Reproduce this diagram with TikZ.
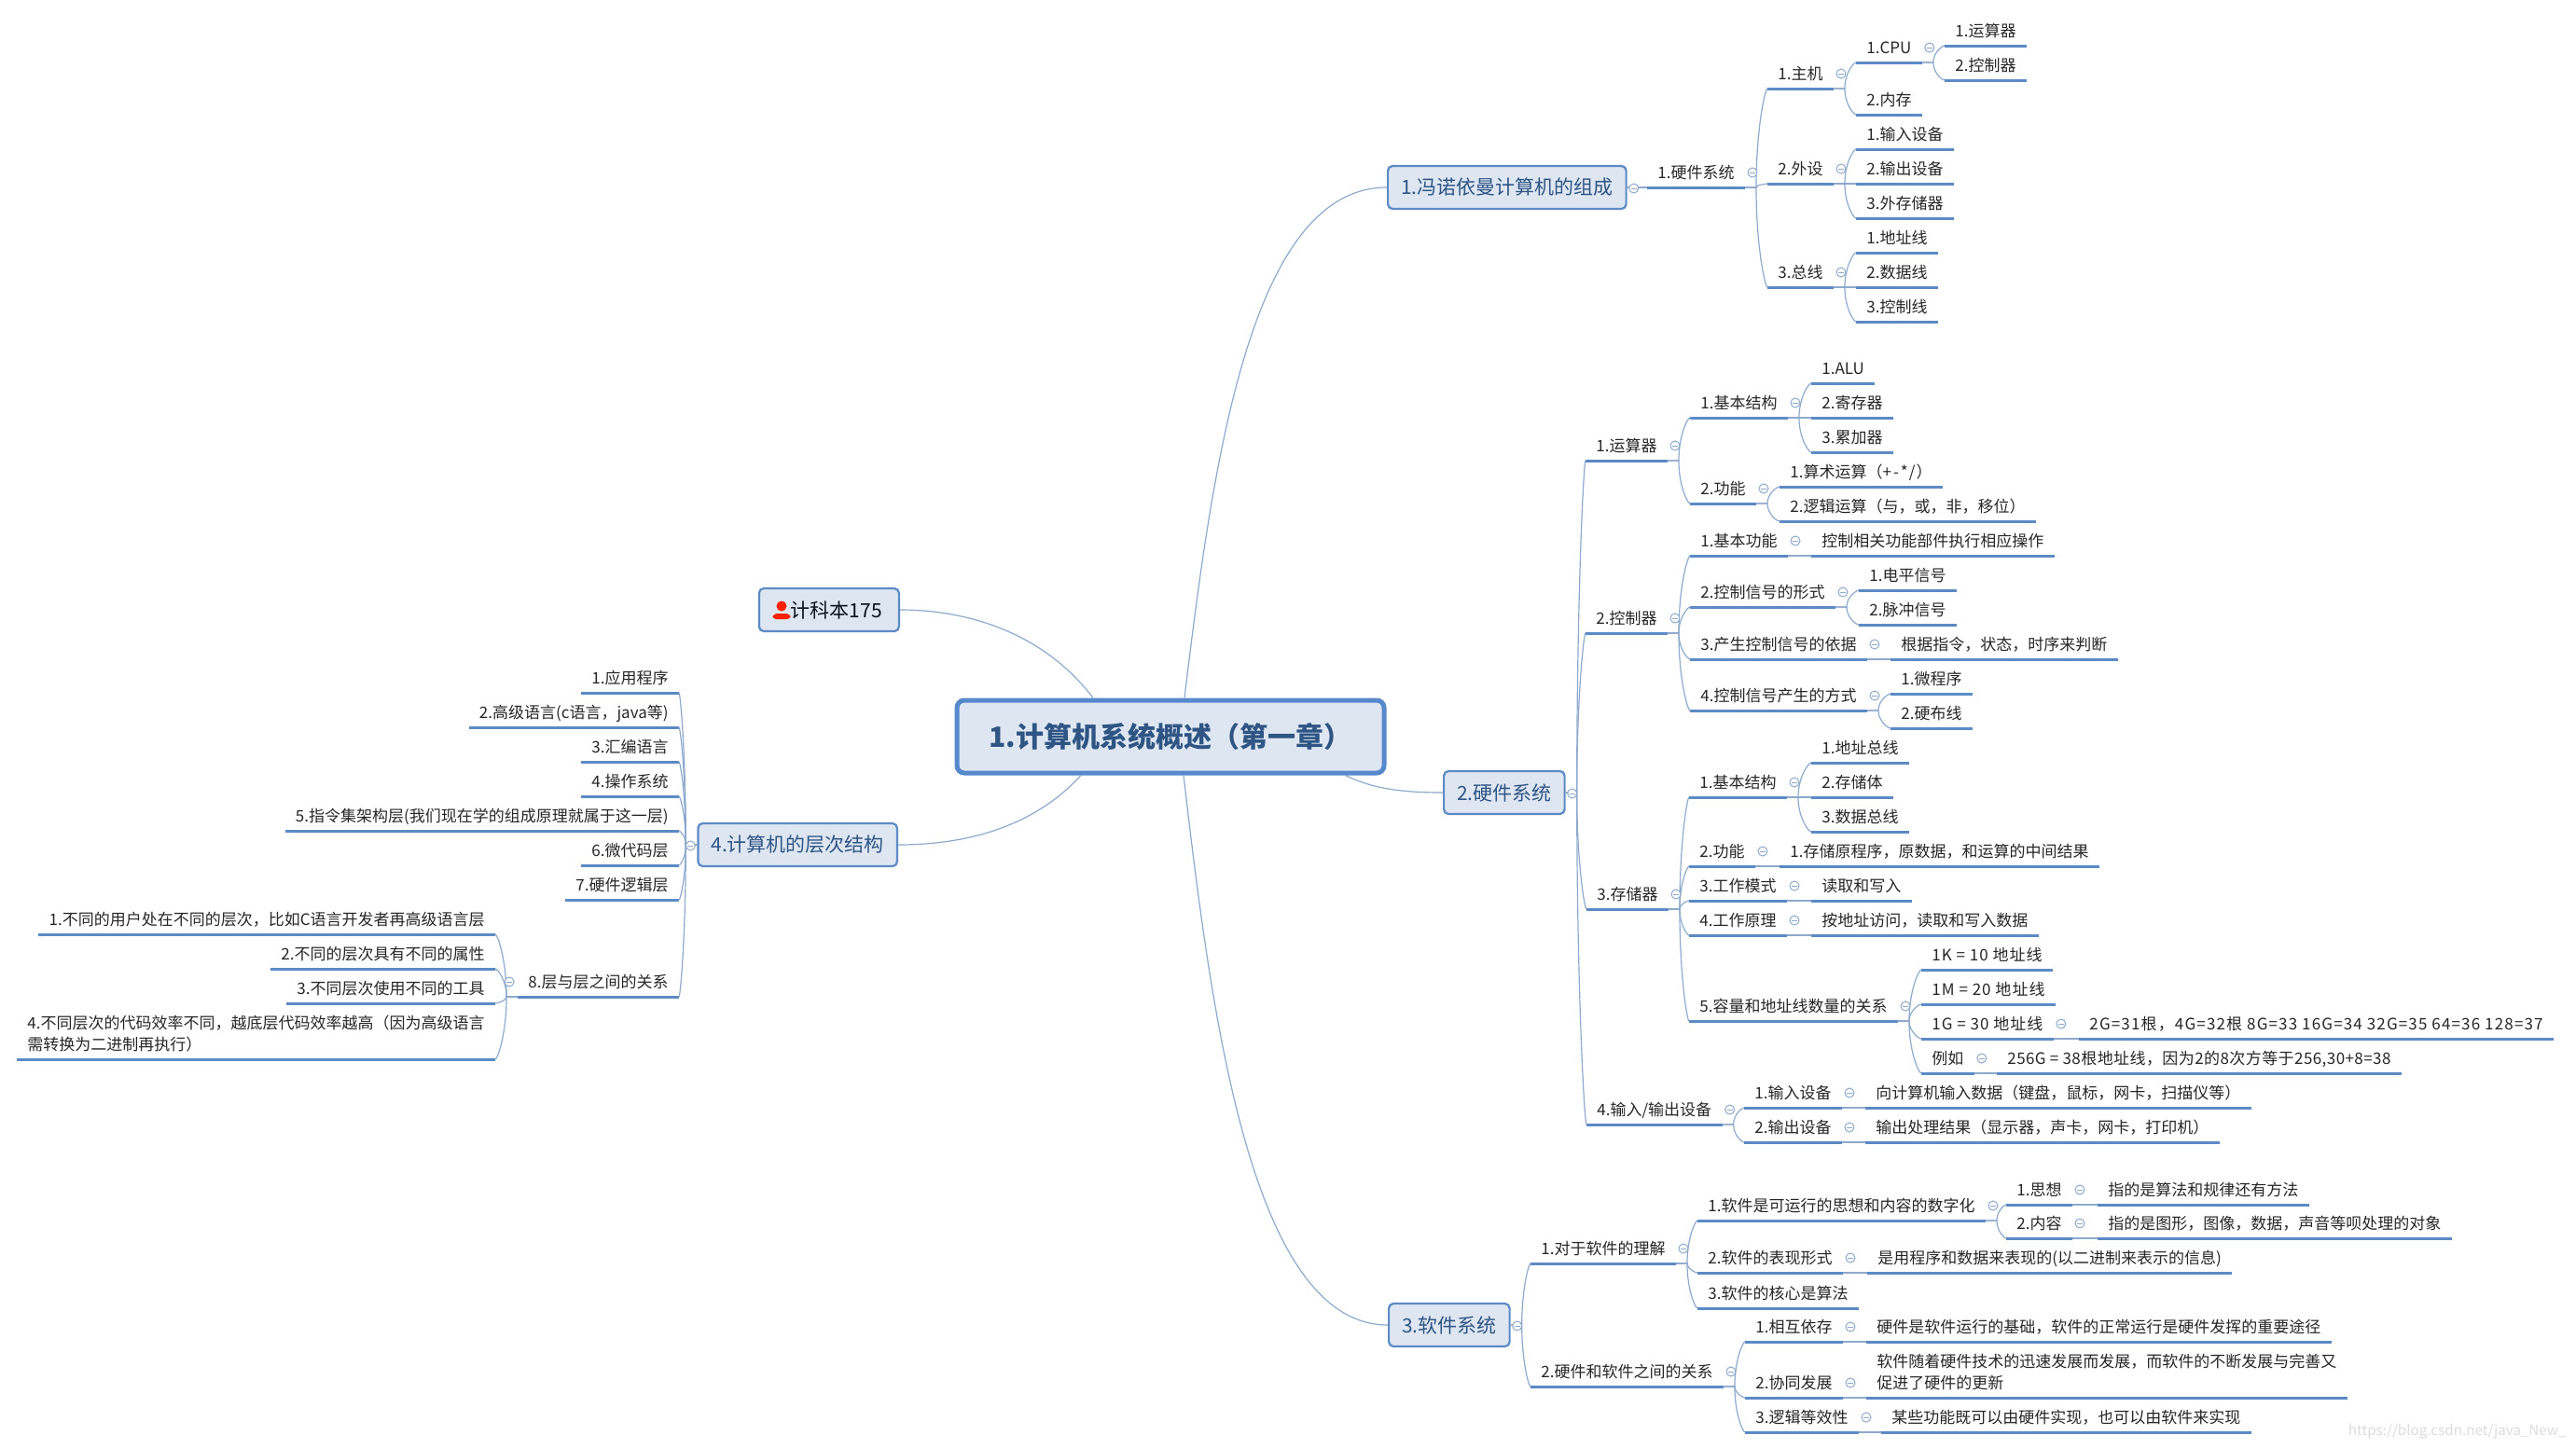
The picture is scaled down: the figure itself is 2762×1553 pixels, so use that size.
\documentclass[tikz,border=0pt]{standalone}
\usepackage{fontspec}
\setmainfont{Noto Sans CJK SC}
\usetikzlibrary{calc}
\definecolor{topicblue}{HTML}{5B8AC5}
\definecolor{linkblue}{HTML}{8DA9CB}
\definecolor{boxfill}{HTML}{DDE6F1}
\definecolor{boxtext}{HTML}{2F5585}
\definecolor{rootblue}{HTML}{5689CC}
\tikzset{
  leaf/.style = {anchor=south west, inner xsep=5.5pt, inner ysep=3pt, text depth=1.8pt, align=left, text=black!85,
    font=\fontsize{8.5pt}{11.5pt}\selectfont,
    append after command={(\tikzlastnode.south west) edge[topicline] (\tikzlastnode.south east)}},
  lleaf/.style = {leaf, anchor=south east},
  wideleaf/.style = {leaf, font=\fontsize{8.5pt}{11.5pt}\selectfont\addfontfeature{LetterSpace=#1}},
  topicline/.style = {draw=topicblue, line width=1.5pt},
  topicbox/.style = {rectangle, draw=topicblue, line width=1.1pt, rounded corners=2.5pt, fill=boxfill, text=boxtext,
    minimum height=23pt, inner xsep=7pt, font=\fontsize{10.5pt}{12pt}\selectfont},
  rootbox/.style = {topicbox, draw=rootblue, line width=2.5pt, rounded corners=4pt, minimum width=229pt, minimum height=39pt,
    font=\fontsize{15pt}{16pt}\selectfont\bfseries},
  link/.style = {draw=linkblue, line width=0.6pt},
  rlink/.style = {link, to path={-- ++(12,0) coordinate (stem)
    .. controls ($(stem)!0.6!(stem |- \tikztotarget)$) and ($(stem |- \tikztotarget)!0.8!(\tikztotarget)$) .. (\tikztotarget)}},
  llink/.style = {link, to path={-- ++(-12,0) coordinate (stem)
    .. controls ($(stem)!0.6!(stem |- \tikztotarget)$) and ($(stem |- \tikztotarget)!0.8!(\tikztotarget)$) .. (\tikztotarget)}},
  foldring/.style = {draw=linkblue, line width=0.5pt, fill=white}
}

\begin{document}
\begin{tikzpicture}[x=0.5pt, y=-0.5pt]
  \useasboundingbox (0,0) rectangle (2762,1553);

  % Centre topic
  \node (root) [rootbox] at (1255,790) {1.计算机系统概述（第一章）};

  % Main topics
  \node (vn) [topicbox, anchor=west] at (1487,201) {1.冯诺依曼计算机的组成};
  \node (hw) [topicbox, anchor=west] at (1547,850) {2.硬件系统};
  \node (sw) [topicbox, anchor=west] at (1488,1421) {3.软件系统};
  \node (lv) [topicbox, anchor=east] at (963,906) {4.计算机的层次结构};
  \node (cls) [topicbox, anchor=east, minimum width=75pt, inner xsep=9pt, text width=57pt, align=right, text=black!80!boxtext] at (965,654) {计科本175};

  % Person mark beside the class label
  \fill[red!75!orange] (838,650) circle (5.5);
  \fill[red!75!orange, rounded corners=2pt] (828,664) -- (829,658) -- (847,658) -- (848,664) -- cycle;

  % 1. von Neumann
  \node (vnsys) [leaf] at (1766,201) {1.硬件系统};
  \node (host) [leaf] at (1895,95) {1.主机};
  \node (peri) [leaf] at (1895,197) {2.外设};
  \node (bus) [leaf] at (1895,308) {3.总线};
  \node (cpu) [leaf] at (1990,67) {1.CPU};
  \node (mem) [leaf] at (1990,123) {2.内存};
  \node (cpua) [leaf] at (2085,49) {1.运算器};
  \node (cpub) [leaf] at (2085,86) {2.控制器};
  \node (pin) [leaf] at (1990,160) {1.输入设备};
  \node (pout) [leaf] at (1990,197) {2.输出设备};
  \node (pext) [leaf] at (1990,234) {3.外存储器};
  \node (busa) [leaf] at (1990,271) {1.地址线};
  \node (busd) [leaf] at (1990,308) {2.数据线};
  \node (busc) [leaf] at (1990,345) {3.控制线};

  % 2. hardware: arithmetic unit
  \node (alu) [leaf] at (1700,494) {1.运算器};
  \node (alubase) [leaf] at (1812,448) {1.基本结构};
  \node (alufunc) [leaf] at (1812,540) {2.功能};
  \node (alua) [leaf] at (1942,411) {1.ALU};
  \node (alub) [leaf] at (1942,448) {2.寄存器};
  \node (aluc) [leaf] at (1942,485) {3.累加器};
  \node (fna) [leaf] at (1908,522) {1.算术运算（+\hspace{1pt}-\hspace{1pt}*\hspace{0.5pt}/\hspace{0.5pt}）};
  \node (fnb) [leaf] at (1908,559) {2.逻辑运算（与，或，非，移位）};

  % 2. hardware: control unit
  \node (ctl) [leaf] at (1700,679) {2.控制器};
  \node (ctla) [leaf] at (1812,596) {1.基本功能};
  \node (ctlat) [leaf] at (1942,596) {控制相关功能部件执行相应操作};
  \node (ctlb) [leaf] at (1812,651) {2.控制信号的形式};
  \node (sigl) [leaf] at (1993,633) {1.电平信号};
  \node (sigp) [leaf] at (1993,670) {2.脉冲信号};
  \node (ctlc) [leaf] at (1812,707) {3.产生控制信号的依据};
  \node (ctlct) [leaf] at (2027,707) {根据指令，状态，时序来判断};
  \node (ctld) [leaf] at (1812,762) {4.控制信号产生的方式};
  \node (micro) [leaf] at (2027,744) {1.微程序};
  \node (wired) [leaf] at (2027,781) {2.硬布线};

  % 2. hardware: memory
  \node (sto) [leaf] at (1701,975) {3.存储器};
  \node (stoa) [leaf] at (1811,855) {1.基本结构};
  \node (addr) [leaf] at (1942,818) {1.地址总线};
  \node (cell) [leaf] at (1942,855) {2.存储体};
  \node (data) [leaf] at (1942,892) {3.数据总线};
  \node (stob) [leaf] at (1811,929) {2.功能};
  \node (stobt) [leaf] at (1908,929) {1.存储原程序，原数据，和运算的中间结果};
  \node (stoc) [leaf] at (1811,966) {3.工作模式};
  \node (stoct) [leaf] at (1942,966) {读取和写入};
  \node (stod) [leaf] at (1811,1003) {4.工作原理};
  \node (stodt) [leaf] at (1942,1003) {按地址访问，读取和写入数据};
  \node (stoe) [leaf] at (1811,1095) {5.容量和地址线数量的关系};
  \node (capk) [wideleaf=6] at (2060,1040) {1K = 10 地址线};
  \node (capm) [wideleaf=6] at (2060,1077) {1M = 20 地址线};
  \node (capg) [wideleaf=6] at (2060,1114) {1G = 30 地址线};
  \node (capgt) [wideleaf=6.8] at (2229,1114) {2G=31根，4G=32根 8G=33 16G=34 32G=35 64=36 128=37};
  \node (capx) [leaf] at (2060,1151) {例如};
  \node (capxt) [wideleaf=2.5] at (2141,1151) {256G = 38根地址线，因为2的8次方等于256,30+8=38};

  % 2. hardware: input and output
  \node (io) [leaf] at (1701,1206) {4.输入/输出设备};
  \node (ioa) [leaf] at (1870,1188) {1.输入设备};
  \node (ioat) [leaf] at (2000,1188) {向计算机输入数据（键盘，鼠标，网卡，扫描仪等）};
  \node (iob) [leaf] at (1870,1225) {2.输出设备};
  \node (iobt) [leaf] at (2000,1225) {输出处理结果（显示器，声卡，网卡，打印机）};

  % 3. software
  \node (swa) [leaf] at (1641,1355) {1.对于软件的理解};
  \node (swaa) [leaf] at (1820,1309) {1.软件是可运行的思想和内容的数字化};
  \node (idea) [leaf] at (2151,1292) {1.思想};
  \node (ideat) [leaf] at (2249,1292) {指的是算法和规律还有方法};
  \node (cont) [leaf] at (2151,1328) {2.内容};
  \node (contt) [leaf] at (2249,1328) {指的是图形，图像，数据，声音等呗处理的对象};
  \node (swab) [leaf] at (1820,1365) {2.软件的表现形式};
  \node (swabt) [leaf] at (2002,1365) {是用程序和数据来表现的(以二进制来表示的信息)};
  \node (swac) [leaf] at (1820,1403) {3.软件的核心是算法};
  \node (swb) [leaf] at (1641,1487) {2.硬件和软件之间的关系};
  \node (swba) [leaf] at (1871,1439) {1.相互依存};
  \node (swbat) [leaf] at (2001,1439) {硬件是软件运行的基础，软件的正常运行是硬件发挥的重要途径};
  \node (swbb) [leaf] at (1871,1499) {2.协同发展};
  \node (swbbt) [leaf] at (2001,1499) {软件随着硬件技术的迅速发展而发展，而软件的不断发展与完善又\\促进了硬件的更新};
  \node (swbc) [leaf] at (1871,1536) {3.逻辑等效性};
  \node (swbct) [leaf] at (2017,1536) {某些功能既可以由硬件实现，也可以由软件来实现};

  % 4. levels (left side)
  \node (lva) [lleaf] at (728,743) {1.应用程序};
  \node (lvb) [lleaf] at (728,780) {2.高级语言(c语言，java等)};
  \node (lvc) [lleaf] at (728,817) {3.汇编语言};
  \node (lvd) [lleaf] at (728,854) {4.操作系统};
  \node (lve) [lleaf] at (728,891) {5.指令集架构层(我们现在学的组成原理就属于这一层)};
  \node (lvf) [lleaf] at (728,928) {6.微代码层};
  \node (lvg) [lleaf] at (728,965) {7.硬件逻辑层};
  \node (lvh) [lleaf] at (728,1069) {8.层与层之间的关系};
  \node (lvha) [lleaf] at (531,1002) {1.不同的用户处在不同的层次，比如C语言开发者再高级语言层};
  \node (lvhb) [lleaf] at (531,1039) {2.不同的层次具有不同的属性};
  \node (lvhc) [lleaf] at (531,1076) {3.不同层次使用不同的工具};
  \node (lvhd) [lleaf] at (531,1136) {4.不同层次的代码效率不同，越底层代码效率越高（因为高级语言\\需转换为二进制再执行）};

  % Site mark
  \node (mark) [anchor=east, text=black!14, inner sep=0pt, font=\fontsize{7.6pt}{9pt}\selectfont] at (2752,1535) {https://blog.csdn.net/java\_New\_};

  % Curves from the centre
  \draw[link] ([xshift=7.5pt]root.north) .. controls (1300,500) and (1340,201) .. (vn.west);
  \draw[link] ([xshift=-22pt]root.south east) .. controls (1470,845) and (1500,850) .. (hw.west);
  \draw[link] ([xshift=7pt]root.south) .. controls (1298,1080) and (1340,1421) .. (sw.west);
  \draw[link] ([xshift=-41.5pt]root.north) .. controls (1120,680) and (1040,654) .. (cls.east);
  \draw[link] ([xshift=-48pt]root.south) .. controls (1110,885) and (1040,906) .. (lv.east);

  % von Neumann links
  \draw[link] (vn.east) -- (vnsys.south west);
  \draw[rlink] (vnsys.south east) to (host.south west);
  \draw[rlink] (vnsys.south east) to (peri.south west);
  \draw[rlink] (vnsys.south east) to (bus.south west);
  \draw[rlink] (host.south east) to (cpu.south west);
  \draw[rlink] (host.south east) to (mem.south west);
  \draw[rlink] (cpu.south east) to (cpua.south west);
  \draw[rlink] (cpu.south east) to (cpub.south west);
  \draw[rlink] (peri.south east) to (pin.south west);
  \draw[link] (peri.south east) -- (pout.south west);
  \draw[rlink] (peri.south east) to (pext.south west);
  \draw[rlink] (bus.south east) to (busa.south west);
  \draw[link] (bus.south east) -- (busd.south west);
  \draw[rlink] (bus.south east) to (busc.south west);

  % Hardware links
  \draw[rlink] (hw.east) to (alu.south west);
  \draw[rlink] (hw.east) to (ctl.south west);
  \draw[rlink] (hw.east) to (sto.south west);
  \draw[rlink] (hw.east) to (io.south west);
  \draw[rlink] (alu.south east) to (alubase.south west);
  \draw[rlink] (alu.south east) to (alufunc.south west);
  \draw[rlink] (alubase.south east) to (alua.south west);
  \draw[link] (alubase.south east) -- (alub.south west);
  \draw[rlink] (alubase.south east) to (aluc.south west);
  \draw[rlink] (alufunc.south east) to (fna.south west);
  \draw[rlink] (alufunc.south east) to (fnb.south west);
  \draw[rlink] (ctl.south east) to (ctla.south west);
  \draw[rlink] (ctl.south east) to (ctlb.south west);
  \draw[rlink] (ctl.south east) to (ctlc.south west);
  \draw[rlink] (ctl.south east) to (ctld.south west);
  \draw[link] (ctla.south east) -- (ctlat.south west);
  \draw[rlink] (ctlb.south east) to (sigl.south west);
  \draw[rlink] (ctlb.south east) to (sigp.south west);
  \draw[link] (ctlc.south east) -- (ctlct.south west);
  \draw[rlink] (ctld.south east) to (micro.south west);
  \draw[rlink] (ctld.south east) to (wired.south west);
  \draw[rlink] (sto.south east) to (stoa.south west);
  \draw[rlink] (sto.south east) to (stob.south west);
  \draw[rlink] (sto.south east) to (stoc.south west);
  \draw[rlink] (sto.south east) to (stod.south west);
  \draw[rlink] (sto.south east) to (stoe.south west);
  \draw[rlink] (stoa.south east) to (addr.south west);
  \draw[link] (stoa.south east) -- (cell.south west);
  \draw[rlink] (stoa.south east) to (data.south west);
  \draw[link] (stob.south east) -- (stobt.south west);
  \draw[link] (stoc.south east) -- (stoct.south west);
  \draw[link] (stod.south east) -- (stodt.south west);
  \draw[rlink] (stoe.south east) to (capk.south west);
  \draw[rlink] (stoe.south east) to (capm.south west);
  \draw[rlink] (stoe.south east) to (capg.south west);
  \draw[rlink] (stoe.south east) to (capx.south west);
  \draw[link] (capg.south east) -- (capgt.south west);
  \draw[link] (capx.south east) -- (capxt.south west);
  \draw[rlink] (io.south east) to (ioa.south west);
  \draw[rlink] (io.south east) to (iob.south west);
  \draw[link] (ioa.south east) -- (ioat.south west);
  \draw[link] (iob.south east) -- (iobt.south west);

  % Software links
  \draw[rlink] (sw.east) to (swa.south west);
  \draw[rlink] (sw.east) to (swb.south west);
  \draw[rlink] (swa.south east) to (swaa.south west);
  \draw[rlink] (swa.south east) to (swab.south west);
  \draw[rlink] (swa.south east) to (swac.south west);
  \draw[rlink] (swaa.south east) to (idea.south west);
  \draw[rlink] (swaa.south east) to (cont.south west);
  \draw[link] (idea.south east) -- (ideat.south west);
  \draw[link] (cont.south east) -- (contt.south west);
  \draw[link] (swab.south east) -- (swabt.south west);
  \draw[rlink] (swb.south east) to (swba.south west);
  \draw[rlink] (swb.south east) to (swbb.south west);
  \draw[rlink] (swb.south east) to (swbc.south west);
  \draw[link] (swba.south east) -- (swbat.south west);
  \draw[link] (swbb.south east) -- (swbbt.south west);
  \draw[link] (swbc.south east) -- (swbct.south west);

  % Level links
  \draw[llink] (lv.west) to (lva.south east);
  \draw[llink] (lv.west) to (lvb.south east);
  \draw[llink] (lv.west) to (lvc.south east);
  \draw[llink] (lv.west) to (lvd.south east);
  \draw[llink] (lv.west) to (lve.south east);
  \draw[llink] (lv.west) to (lvf.south east);
  \draw[llink] (lv.west) to (lvg.south east);
  \draw[llink] (lv.west) to (lvh.south east);
  \draw[llink] (lvh.south west) to (lvha.south east);
  \draw[llink] (lvh.south west) to (lvhb.south east);
  \draw[llink] (lvh.south west) to (lvhc.south east);
  \draw[llink] (lvh.south west) to (lvhd.south east);

  % Fold marks
  \foreach \n in {vnsys,host,peri,bus,cpu,alu,alubase,alufunc,ctl,ctla,ctlb,ctlc,ctld,sto,stoa,stob,stoc,stod,stoe,capg,capx,io,ioa,iob,swa,swaa,idea,cont,swab,swb,swba,swbb,swbc} {
    \draw[foldring] ($(\n.south east)+(8,-16)$) circle (5);
    \draw[foldring] ($(\n.south east)+(5,-16)$) -- ++(6,0);
  }
  \foreach \n in {vn,hw,sw} {
    \draw[foldring] ($(\n.east)+(7,1)$) circle (5);
    \draw[foldring] ($(\n.east)+(4,1)$) -- ++(6,0);
  }
  \draw[foldring] ($(lv.west)+(-7,1)$) circle (5);
  \draw[foldring] ($(lv.west)+(-10,1)$) -- ++(6,0);
  \draw[foldring] ($(lvh.south west)+(-9,-16)$) circle (5);
  \draw[foldring] ($(lvh.south west)+(-12,-16)$) -- ++(6,0);
\end{tikzpicture}
\end{document}
